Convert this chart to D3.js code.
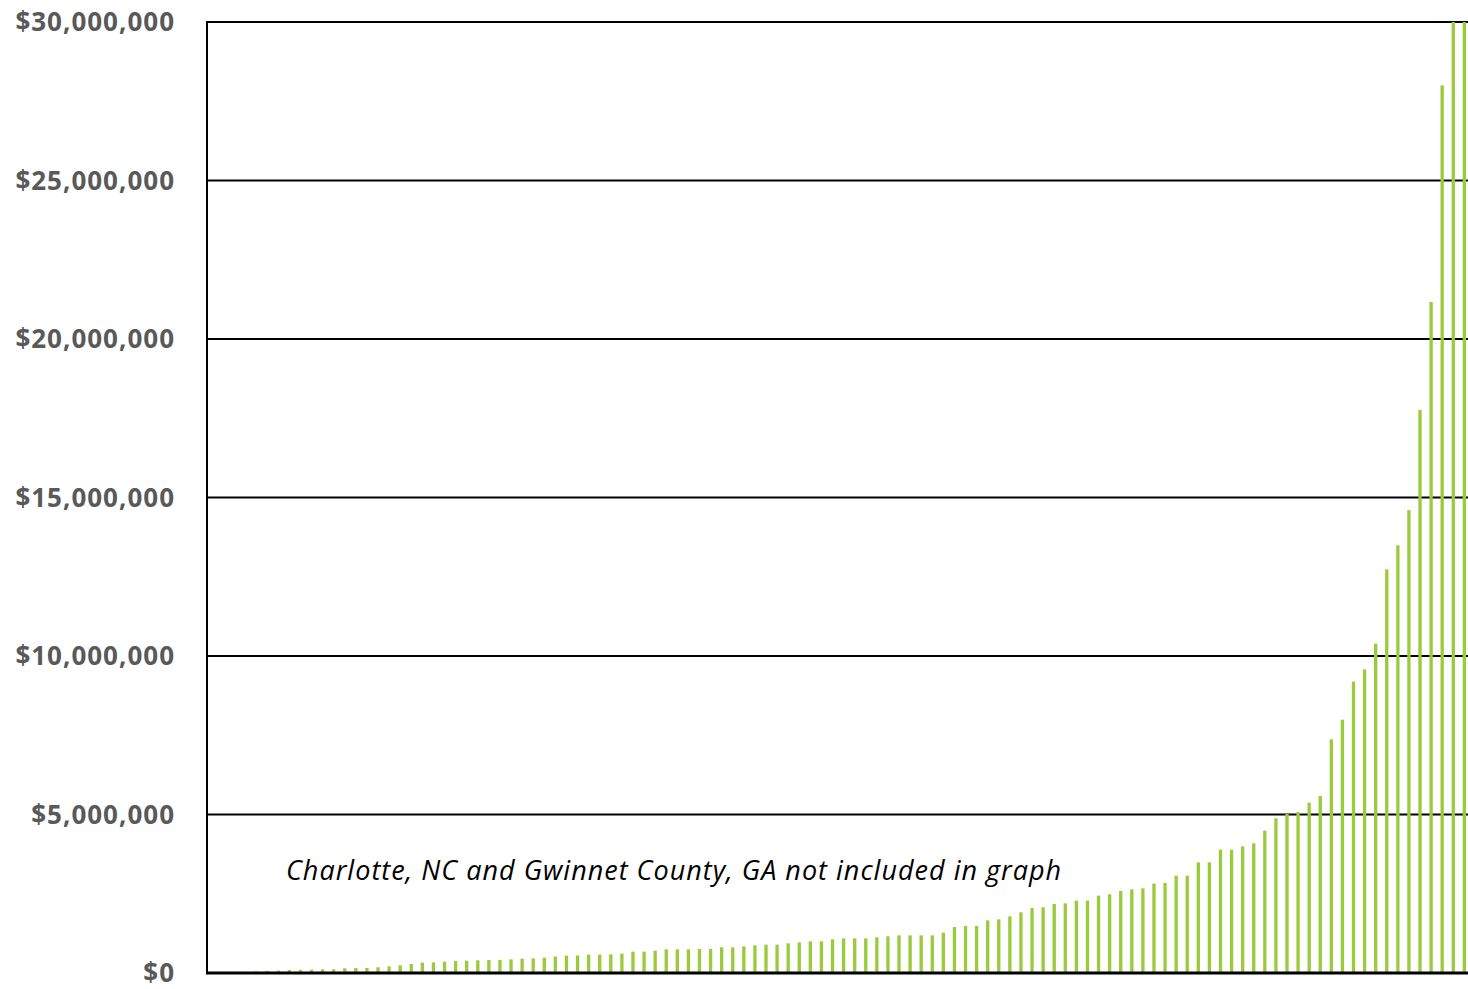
<!DOCTYPE html>
<html>
<head>
<meta charset="utf-8">
<script src="https://cdn.jsdelivr.net/npm/d3@7"></script>
<style>
  html, body { margin: 0; padding: 0; background: #fff; overflow: hidden; }
  svg { display: block; }
</style>
</head>
<body>
<svg id="chart" width="1468" height="989"></svg>
<script>
// ---- data ----
const values = [
  10000, 15000, 25000, 35000, 55000, 65000, 75000, 95000, 100000, 105000,
  115000, 118000, 148000, 158000, 160000, 180000, 210000, 242000, 284000, 326000,
  337000, 357000, 378000, 389000, 400000, 410000, 412000, 431000, 452000, 462000,
  484000, 520000, 547000, 555000, 578000, 578000, 589000, 610000, 673000, 673000,
  705000, 747000, 747000, 747000, 757000, 757000, 810000, 810000, 841000, 873000,
  894000, 894000, 936000, 967000, 999000, 999000, 1062000, 1093000, 1093000, 1093000,
  1125000, 1156000, 1188000, 1188000, 1188000, 1188000, 1272000, 1451000, 1483000, 1483000,
  1661000, 1693000, 1787000, 1914000, 2050000, 2072000, 2177000, 2198000, 2282000, 2282000,
  2440000, 2482000, 2587000, 2640000, 2671000, 2818000, 2839000, 3070000, 3070000, 3491000,
  3491000, 3891000, 3891000, 3996000, 4091000, 4490000, 4879000, 5016000, 5079000, 5373000,
  5584000, 7372000, 7991000, 9190000, 9580000, 10389000, 12735000, 13492000, 14600000, 17760000,
  21167000, 28003000, 30000000, 30000000
];
const categories = values.map((v, i) => String(i + 1));
const yTicks = [0, 5000000, 10000000, 15000000, 20000000, 25000000, 30000000];
const yMax = 30000000;
const note = "Charlotte, NC and Gwinnet County, GA not included in graph";

// ---- layout ----
const svg = d3.select("#chart");
const plotLeft = 207, plotRight = 1470, plotTop = 22, plotBottom = 973;

const x = d3.scaleBand()
  .domain(categories)
  .range([206.2, 1469.9])
  .paddingInner(0.7)
  .paddingOuter(0.35);

const y = d3.scaleLinear()
  .domain([0, yMax])
  .range([plotBottom, plotTop]);

// gridlines
svg.append("g")
  .selectAll("line")
  .data(yTicks.filter(t => t > 0))
  .join("line")
  .attr("x1", plotLeft)
  .attr("x2", plotRight)
  .attr("y1", d => y(d))
  .attr("y2", d => y(d))
  .attr("stroke", "#000")
  .attr("stroke-width", 2);

// bars
svg.append("g")
  .selectAll("rect")
  .data(values)
  .join("rect")
  .attr("x", (d, i) => x(categories[i]))
  .attr("width", x.bandwidth())
  .attr("y", d => y(Math.min(d, yMax)))
  .attr("height", d => y(0) - y(Math.min(d, yMax)))
  .attr("fill", "#9ACB3C");

// axes lines
svg.append("line")
  .attr("x1", plotLeft).attr("x2", plotLeft)
  .attr("y1", plotTop - 1).attr("y2", plotBottom + 1)
  .attr("stroke", "#000").attr("stroke-width", 2);
svg.append("line")
  .attr("x1", plotLeft - 1).attr("x2", plotRight)
  .attr("y1", plotBottom).attr("y2", plotBottom)
  .attr("stroke", "#000").attr("stroke-width", 3);

// y tick labels
const fmt = d => "$" + d3.format(",")(d);
svg.append("g")
  .selectAll("text")
  .data(yTicks)
  .join("text")
  .attr("x", 175)
  .attr("y", d => y(d))
  .attr("dy", "0.36em")
  .attr("text-anchor", "end")
  .attr("font-family", "'Open Sans', sans-serif")
  .attr("font-weight", "bold")
  .attr("font-size", 26)
  .attr("letter-spacing", "1px")
  .attr("fill", "#595959")
  .text(fmt);

// annotation
svg.append("text")
  .attr("x", 286)
  .attr("y", 880)
  .attr("font-family", "'Open Sans', sans-serif")
  .attr("font-style", "italic")
  .attr("font-size", 27)
  .attr("letter-spacing", "1px")
  .attr("fill", "#000")
  .text(note);
</script>
</body>
</html>
